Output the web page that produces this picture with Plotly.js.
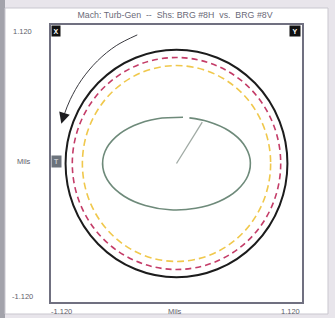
<!DOCTYPE html>
<html>
<head>
<meta charset="utf-8">
<script src="https://cdn.plot.ly/plotly-3.0.1.min.js"></script>
<style>html,body{margin:0;padding:0;background:#e7e4ea;}#chart{width:335px;height:318px;}</style>
</head>
<body>
<div id="chart"></div>
<script>
// ---- data ----
const chartTitle = 'Mach: Turb-Gen  --  Shs: BRG #8H  vs.  BRG #8V';
const axisUnit = 'Mils';
const xTickLabels = ['-1.120', '1.120'];
const yTickLabels = ['1.120', '-1.120'];
const axisLimit = 1.12;

// reference rings (half-widths / half-heights, mils)
const ringNames = ['Limit', 'Danger', 'Alert'];
const ringRx = [0.99, 0.93, 0.84];
const ringRy = [0.92, 0.857, 0.792];
const ringColors = ['#1c1c1c', '#c43c68', '#f0c84c'];
const ringWidths = [2, 1.6, 1.6];
const ringDash = ['solid', '6px,4px', '7px,4px'];

// orbit (mils)
const orbitX = [0.058, -0.171, -0.379, -0.541, -0.638, -0.657, -0.598, -0.467, -0.279, -0.058,
                0.171, 0.379, 0.541, 0.638, 0.657, 0.598, 0.467, 0.279, 0.115];
const orbitY = [0.374, 0.362, 0.307, 0.215, 0.097, -0.033, -0.158, -0.265, -0.340, -0.374,
                -0.362, -0.307, -0.215, -0.097, 0.033, 0.158, 0.265, 0.340, 0.369];

// shaft position vector (mils)
const vectorX = [0, 0.23];
const vectorY = [0, 0.335];

// rotation arrow arc (mils)
const arcX = [-0.350, -0.538, -0.705, -0.847, -0.949, -1.010];
const arcY = [1.040, 0.953, 0.830, 0.677, 0.516, 0.376];
const arrowTip = [-1.028, 0.322];

// probe labels
const probeLabels = ['X', 'Y', 'T'];

// ---- layout geometry ----
const W = 335, H = 318;
const m = {l: 51, r: 33, t: 25, b: 16};
const pw = W - m.l - m.r, ph = H - m.t - m.b;
const px = v => (v - m.l) / pw;
const py = v => (H - m.b - v) / ph;
const FONT = 'Liberation Sans, Arial, sans-serif';
const tickFont = {family: FONT, size: 7.5, color: '#5e5e6a'};

const traces = [
  {x: orbitX, y: orbitY, mode: 'lines', type: 'scatter',
   line: {color: '#6e8a7a', width: 1.6, shape: 'spline', smoothing: 1}, hoverinfo: 'skip'},
  {x: vectorX, y: vectorY, mode: 'lines', type: 'scatter',
   line: {color: '#a0aaa4', width: 1.3}, hoverinfo: 'skip'},
  {x: arcX, y: arcY, mode: 'lines', type: 'scatter',
   line: {color: '#3a3a40', width: 1, shape: 'spline'}, hoverinfo: 'skip'}
];

const shapes = [
  {type: 'rect', xref: 'paper', yref: 'paper', layer: 'below',
   x0: px(0), x1: px(5), y0: py(H), y1: py(0), fillcolor: '#a3a3ab', line: {width: 0}},
  {type: 'rect', xref: 'paper', yref: 'paper', layer: 'below',
   x0: px(5), x1: px(328), y0: py(314), y1: py(8), fillcolor: '#ffffff', line: {color: '#c9c7cf', width: 1}}
];
ringNames.forEach((n, i) => {
  shapes.push({type: 'circle', xref: 'x', yref: 'y', layer: 'above',
    x0: -ringRx[i], x1: ringRx[i], y0: -ringRy[i], y1: ringRy[i],
    line: {color: ringColors[i], width: ringWidths[i], dash: ringDash[i]}});
});

const annotations = [
  // y tick labels
  {text: yTickLabels[0], xref: 'paper', yref: 'paper', x: px(34), y: py(31.5), xanchor: 'right', yanchor: 'middle', showarrow: false, font: tickFont},
  {text: yTickLabels[1], xref: 'paper', yref: 'paper', x: px(35), y: py(296.5), xanchor: 'right', yanchor: 'middle', showarrow: false, font: tickFont},
  {text: axisUnit, xref: 'paper', yref: 'paper', x: px(33), y: py(161.5), xanchor: 'right', yanchor: 'middle', showarrow: false, font: tickFont},
  // x tick labels
  {text: xTickLabels[0], xref: 'paper', yref: 'paper', x: px(49), y: py(311.5), xanchor: 'left', yanchor: 'middle', showarrow: false, font: tickFont},
  {text: xTickLabels[1], xref: 'paper', yref: 'paper', x: px(302), y: py(311.5), xanchor: 'right', yanchor: 'middle', showarrow: false, font: tickFont},
  {text: axisUnit, xref: 'paper', yref: 'paper', x: px(175), y: py(311.5), xanchor: 'center', yanchor: 'middle', showarrow: false, font: tickFont},
  // probe boxes
  {text: '<b>' + probeLabels[0] + '</b>', xref: 'paper', yref: 'paper', x: px(51), y: py(25), xanchor: 'left', yanchor: 'top',
   showarrow: false, bgcolor: '#111111', width: 8, height: 10, borderpad: 0, font: {family: FONT, size: 7, color: '#ffffff'}},
  {text: '<b>' + probeLabels[1] + '</b>', xref: 'paper', yref: 'paper', x: px(301), y: py(25), xanchor: 'right', yanchor: 'top',
   showarrow: false, bgcolor: '#111111', width: 10, height: 10, borderpad: 0, font: {family: FONT, size: 7, color: '#ffffff'}},
  {text: '<b>' + probeLabels[2] + '</b>', xref: 'paper', yref: 'paper', x: px(51), y: py(161.5), xanchor: 'left', yanchor: 'middle',
   showarrow: false, bgcolor: '#6c737c', width: 9, height: 11, borderpad: 0, font: {family: FONT, size: 7, color: '#c8ccd2'}},
  // rotation arrowhead
  {text: '', x: arrowTip[0], y: arrowTip[1], ax: arcX[arcX.length - 1], ay: arcY[arcY.length - 1],
   xref: 'x', yref: 'y', axref: 'x', ayref: 'y', showarrow: true, arrowhead: 2, arrowsize: 2.2, arrowwidth: 1, arrowcolor: '#1c1c20'}
];

const layout = {
  width: W, height: H,
  margin: m,
  paper_bgcolor: '#e8e5eb',
  plot_bgcolor: '#ffffff',
  showlegend: false,
  title: {text: chartTitle, x: 175 / W, xanchor: 'center', y: 1 - 15 / H, yanchor: 'middle',
          font: {family: FONT, size: 8.8, color: '#6a6a78'}},
  xaxis: {range: [-axisLimit, axisLimit], showgrid: false, zeroline: false, showticklabels: false, ticks: '',
          showline: true, mirror: true, linecolor: '#707080', linewidth: 2, fixedrange: true},
  yaxis: {range: [-axisLimit, axisLimit], showgrid: false, zeroline: false, showticklabels: false, ticks: '',
          showline: true, mirror: true, linecolor: '#707080', linewidth: 2, fixedrange: true},
  shapes: shapes,
  annotations: annotations
};

Plotly.newPlot('chart', traces, layout, {displayModeBar: false, staticPlot: true});
</script>
</body>
</html>
